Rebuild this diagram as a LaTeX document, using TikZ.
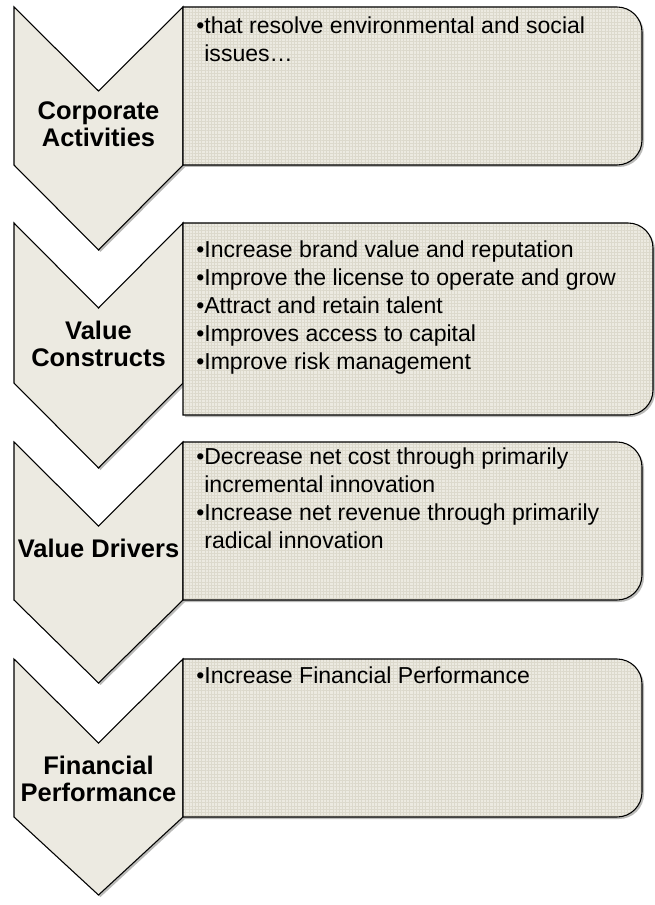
\documentclass[tikz,border=0pt]{standalone}
\usepackage{fontspec}
\setmainfont{Liberation Sans}
\usetikzlibrary{patterns.meta}

\definecolor{stepfill}{HTML}{ECEAE1}
\definecolor{gridline}{HTML}{DCD9CC}
\definecolor{shadowgray}{HTML}{8C8C88}

\newcommand{\chevpath}[4]{(14,#1) -- (98.5,#2) -- (183,#1) -- (183,#3) -- (98.5,#4) -- (14,#3) -- cycle}
\newcommand{\panelpath}[3]{(183,#1) -- (#3-25,#1) .. controls (#3-11.2,#1) and (#3,#1+11.2) .. (#3,#1+25) -- (#3,#2-25) .. controls (#3,#2-11.2) and (#3-11.2,#2) .. (#3-25,#2) -- (183,#2) -- cycle}

\tikzset{
	chev/.style={draw=black, line width=0.8pt, fill=stepfill},
	panel/.style={draw=black, line width=0.8pt, preaction={fill=stepfill},
		pattern={Hatch[angle=0, distance=2.4pt, line width=0.3pt]}, pattern color=gridline},
	shade/.style={fill=shadowgray, opacity=0.6, shift={(2,2)}},
	steplabel/.style={inner sep=0pt, anchor=base, align=center,
		font=\fontsize{19.1}{20.25}\selectfont\bfseries},
	stepitems/.style={inner sep=0pt, anchor=base west, align=left,
		font=\fontsize{17.3}{21}\selectfont}
}

\begin{document}
\begin{tikzpicture}[x=0.75pt, y=-0.75pt]
	
	\useasboundingbox (0,0) rectangle (655,905);
	
	\fill[shade] \chevpath{7}{91}{165}{250};
	\path[chev] \chevpath{7}{91}{165}{250};
	\fill[shade] \panelpath{7}{165}{642};
	\path[panel] \panelpath{7}{165}{642};
	
	\fill[shade] \chevpath{223}{308}{383}{468};
	\path[chev] \chevpath{223}{308}{383}{468};
	\fill[shade] \panelpath{223}{415}{653};
	\path[panel] \panelpath{223}{415}{653};
	
	\fill[shade] \chevpath{442}{526}{600}{683};
	\path[chev] \chevpath{442}{526}{600}{683};
	\fill[shade] \panelpath{442}{600}{642};
	\path[panel] \panelpath{442}{600}{642};
	
	\fill[shade] \chevpath{659}{743}{817}{895};
	\path[chev] \chevpath{659}{743}{817}{895};
	\fill[shade] \panelpath{659}{817}{642};
	\path[panel] \panelpath{659}{817}{642};
	
	\node[steplabel] (corp) at (98.5, 147) {Corporate\\Activities};
	\node[steplabel] (constructs) at (98.5, 366) {Value\\Constructs};
	\node[steplabel] (drivers) at (98.5, 557) {Value Drivers};
	\node[steplabel] (finance) at (98.5, 801) {Financial\\Performance};
	
	\node[stepitems] (corpitems) at (196, 62)
		{\textbullet that resolve environmental and social\\\phantom{\textbullet}issues…};
	\node[stepitems] (constructitems) at (196, 369)
		{\textbullet Increase brand value and reputation\\
		 \textbullet Improve the license to operate and grow\\
		 \textbullet Attract and retain talent\\
		 \textbullet Improves access to capital\\
		 \textbullet Improve risk management};
	\node[stepitems] (driveritems) at (196, 548)
		{\textbullet Decrease net cost through primarily\\
		 \phantom{\textbullet}incremental innovation\\
		 \textbullet Increase net revenue through primarily\\
		 \phantom{\textbullet}radical innovation};
	\node[stepitems] (financeitems) at (196, 683)
		{\textbullet Increase Financial Performance};
	
\end{tikzpicture}
\end{document}
